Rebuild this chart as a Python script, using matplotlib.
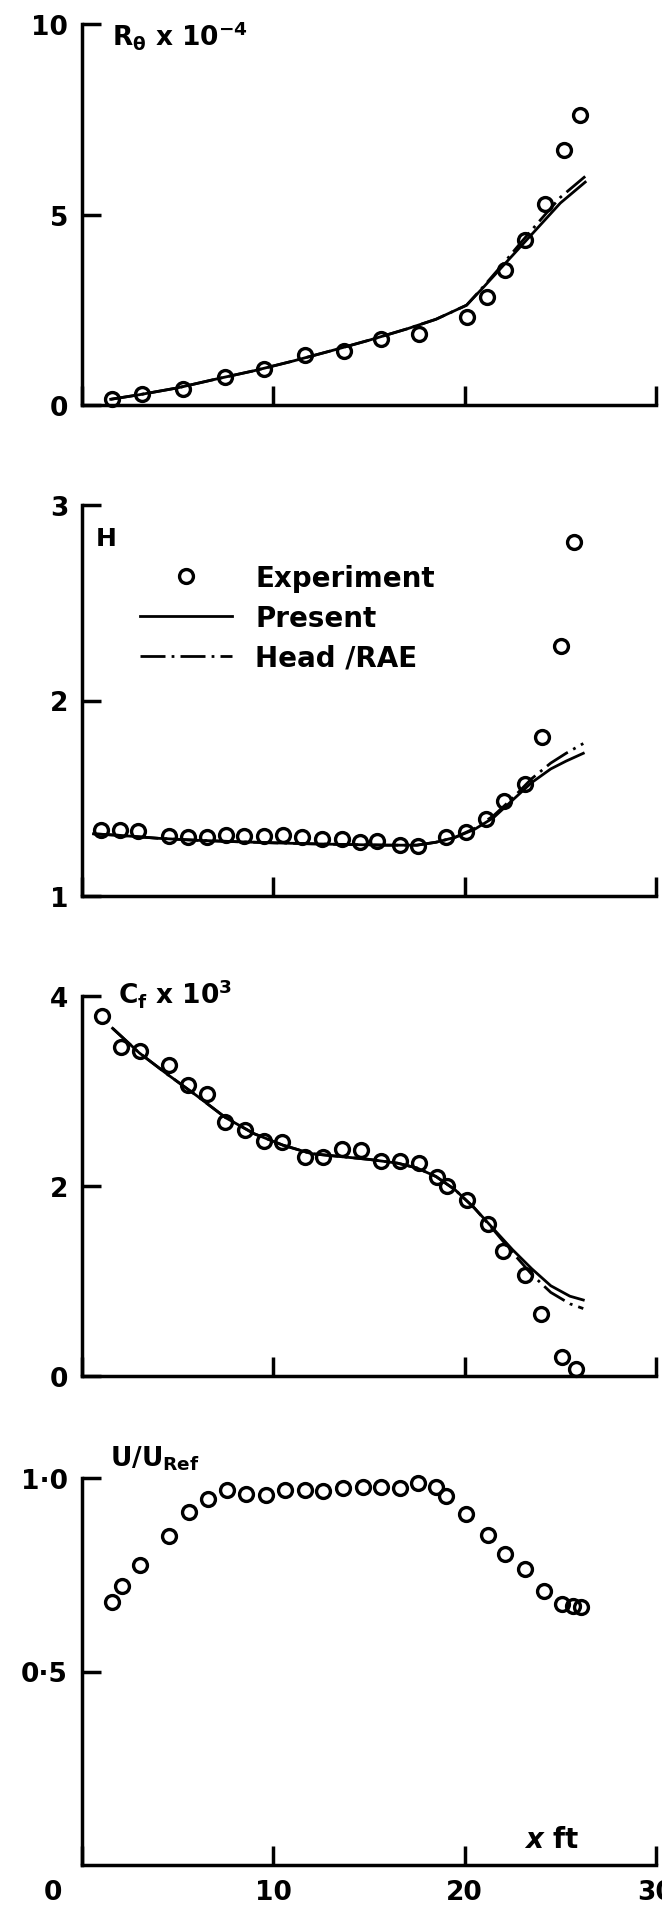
import matplotlib
matplotlib.use("Agg")
import matplotlib.pyplot as plt

plt.rcParams["font.family"] = ["DejaVu Sans"]
plt.rcParams["font.weight"] = "bold"
plt.rcParams["mathtext.fontset"] = "custom"
plt.rcParams["mathtext.rm"] = "DejaVu Sans:bold"
plt.rcParams["mathtext.it"] = "DejaVu Sans:italic:bold"
plt.rcParams["mathtext.bf"] = "DejaVu Sans:bold"
plt.rcParams["mathtext.default"] = "rm"

# ---------------- data ----------------
# Panel 1: R_theta x 10^-4
rth_exp_x = [1.59, 3.14, 5.29, 7.47, 9.51, 11.64, 13.68, 15.63, 17.6, 20.1, 21.17, 22.1, 23.17, 24.2, 25.17, 26.05]
rth_exp_y = [0.16, 0.29, 0.42, 0.73, 0.94, 1.31, 1.43, 1.73, 1.86, 2.30, 2.83, 3.55, 4.34, 5.28, 6.70, 7.61]
rth_pres_x = [1.5, 3, 5, 7, 9, 11, 13, 15, 17, 18.5, 20.1, 21, 22, 23, 24, 25, 26.3]
rth_pres_y = [0.15, 0.27, 0.45, 0.68, 0.90, 1.15, 1.42, 1.70, 2.00, 2.25, 2.62, 3.10, 3.65, 4.20, 4.75, 5.30, 5.85]
rth_head_x = [1.5, 3, 5, 7, 9, 11, 13, 15, 17, 18.5, 20.1, 21, 22, 23, 24, 25, 26.3]
rth_head_y = [0.15, 0.27, 0.45, 0.68, 0.90, 1.15, 1.42, 1.70, 2.00, 2.25, 2.62, 3.12, 3.70, 4.30, 4.88, 5.45, 6.00]

# Panel 2: H
h_exp_x = [0.99, 1.97, 2.92, 4.54, 5.52, 6.54, 7.51, 8.47, 9.51, 10.53, 11.5, 12.52, 13.57, 14.52, 15.41,
           16.6, 17.56, 19.0, 20.06, 21.11, 22.06, 23.15, 24.06, 25.06, 25.72]
h_exp_y = [1.339, 1.34, 1.334, 1.309, 1.30, 1.30, 1.312, 1.309, 1.305, 1.312, 1.30, 1.29, 1.29, 1.275, 1.279,
           1.262, 1.257, 1.303, 1.329, 1.394, 1.488, 1.573, 1.812, 2.28, 2.81]
h_pres_x = [0.6, 2, 4, 6, 8, 10, 12, 14, 16, 17.5, 18.5, 19.5, 20.5, 21.5, 22.5, 23.5, 24.5, 25.3, 26.2]
h_pres_y = [1.318, 1.31, 1.295, 1.285, 1.278, 1.272, 1.267, 1.263, 1.26, 1.26, 1.275, 1.30, 1.34, 1.40, 1.49,
            1.58, 1.65, 1.69, 1.73]
h_head_x = [0.6, 2, 4, 6, 8, 10, 12, 14, 16, 17.5, 18.5, 19.5, 20.5, 21.5, 22.5, 23.5, 24.5, 25.3, 26.2]
h_head_y = [1.318, 1.31, 1.295, 1.285, 1.278, 1.272, 1.267, 1.263, 1.26, 1.26, 1.275, 1.30, 1.345, 1.41, 1.50,
            1.60, 1.68, 1.73, 1.78]

# Panel 3: Cf x 10^3
cf_exp_x = [1.04, 2.03, 3.03, 4.54, 5.52, 6.54, 7.47, 8.51, 9.51, 10.46, 11.64, 12.62, 13.57, 14.57, 15.61,
            16.6, 17.6, 18.56, 19.07, 20.11, 21.22, 22.0, 23.15, 23.99, 25.1, 25.83]
cf_exp_y = [3.79, 3.46, 3.42, 3.27, 3.06, 2.97, 2.67, 2.59, 2.47, 2.46, 2.31, 2.31, 2.39, 2.38, 2.26,
            2.26, 2.24, 2.09, 2.00, 1.85, 1.60, 1.32, 1.06, 0.65, 0.20, 0.07]
cf_pres_x = [1.6, 3, 4.5, 6, 7.5, 9, 10.5, 12, 13.5, 15, 16.5, 17.5, 18.5, 19.5, 20.5, 21.5, 22.5, 23.5, 24.5, 25.5, 26.2]
cf_pres_y = [3.66, 3.40, 3.17, 2.95, 2.72, 2.55, 2.43, 2.34, 2.31, 2.28, 2.24, 2.19, 2.10, 1.96, 1.77, 1.55,
             1.33, 1.13, 0.95, 0.84, 0.80]
cf_head_x = [1.6, 3, 4.5, 6, 7.5, 9, 10.5, 12, 13.5, 15, 16.5, 17.5, 18.5, 19.5, 20.5, 21.5, 22.5, 23.5, 24.5, 25.5, 26.2]
cf_head_y = [3.66, 3.40, 3.17, 2.95, 2.72, 2.55, 2.43, 2.34, 2.31, 2.28, 2.24, 2.19, 2.10, 1.96, 1.77, 1.54,
             1.30, 1.07, 0.88, 0.76, 0.71]

# Panel 4: U/U_ref
u_exp_x = [1.59, 2.10, 3.03, 4.54, 5.58, 6.58, 7.58, 8.58, 9.64, 10.62, 11.64, 12.62, 13.63, 14.68, 15.63,
           16.6, 17.56, 18.49, 19.04, 20.06, 21.22, 22.1, 23.15, 24.17, 25.1, 25.65, 26.1]
u_exp_y = [0.679, 0.722, 0.775, 0.851, 0.913, 0.946, 0.970, 0.959, 0.956, 0.970, 0.970, 0.967, 0.973, 0.976, 0.976,
           0.973, 0.987, 0.976, 0.953, 0.907, 0.853, 0.804, 0.765, 0.709, 0.674, 0.670, 0.666]

# tick labels
x_ticks = [0, 10, 20, 30]
x_ticklabels = ["", "10", "20", "30"]
p1_yticks, p1_ylabels = [0, 5, 10], ["0", "5", "10"]
p2_yticks, p2_ylabels = [1, 2, 3], ["1", "2", "3"]
p3_yticks, p3_ylabels = [0, 2, 4], ["0", "2", "4"]
p4_yticks, p4_ylabels = [0.5, 1.0], ["0·5", "1·0"]

# ---------------- figure ----------------
W, H = 662, 1908
fig = plt.figure(figsize=(W / 100, H / 100), dpi=100)

LEFT, RIGHT = 82, 656


def make_axes(top, bottom):
    return fig.add_axes([LEFT / W, 1 - bottom / H, (RIGHT - LEFT) / W, (bottom - top) / H])


SPINE_LW = 2.5
LINE_LW = 2.0
MS = 10
MEW = 2.4
DASHDOT = (0, (9, 2.2, 1.0, 2.2))


def style(ax, ylim, yticks, ylabels, xlabels=False):
    ax.set_xlim(0, 30)
    ax.set_ylim(*ylim)
    for s in ("top", "right"):
        ax.spines[s].set_visible(False)
    for s in ("left", "bottom"):
        ax.spines[s].set_linewidth(SPINE_LW)
    ax.set_xticks(x_ticks)
    ax.set_yticks(yticks)
    ax.set_yticklabels(ylabels, fontweight="bold")
    if xlabels:
        ax.set_xticklabels(x_ticklabels, fontweight="bold")
    else:
        ax.set_xticklabels([])
    ax.tick_params(axis="both", direction="in", length=14, width=SPINE_LW, labelsize=19, pad=10)


def exp(ax, x, y, label=None):
    ax.plot(x, y, "o", mfc="none", mec="black", ms=MS, mew=MEW, clip_on=False, zorder=3, label=label)


# Panel 1
ax1 = make_axes(25, 406)
style(ax1, (0, 10), p1_yticks, p1_ylabels)
ax1.plot(rth_head_x, rth_head_y, color="black", lw=LINE_LW, ls=DASHDOT)
ax1.plot(rth_pres_x, rth_pres_y, color="black", lw=LINE_LW)
exp(ax1, rth_exp_x, rth_exp_y)

# Panel 2
ax2 = make_axes(506, 897)
style(ax2, (1, 3), p2_yticks, p2_ylabels)
exp(ax2, h_exp_x, h_exp_y, label="Experiment")
ax2.plot(h_pres_x, h_pres_y, color="black", lw=LINE_LW, label="Present")
ax2.plot(h_head_x, h_head_y, color="black", lw=LINE_LW, ls=DASHDOT, label="Head /RAE")
ax2.legend(loc="upper left", bbox_to_anchor=((140 - LEFT) / (RIGHT - LEFT), (897 - 565) / (897 - 506)),
           frameon=False, prop={"size": 20, "weight": "bold"}, handlelength=3.3, handletextpad=0.85,
           labelspacing=0.42, borderpad=0, borderaxespad=0, numpoints=1)

# Panel 3
ax3 = make_axes(997, 1377)
style(ax3, (0, 4), p3_yticks, p3_ylabels)
ax3.plot(cf_head_x, cf_head_y, color="black", lw=LINE_LW, ls=DASHDOT)
ax3.plot(cf_pres_x, cf_pres_y, color="black", lw=LINE_LW)
exp(ax3, cf_exp_x, cf_exp_y)

# Panel 4
ax4 = make_axes(1479, 1866)
style(ax4, (0, 1.0), p4_yticks, p4_ylabels, xlabels=True)
exp(ax4, u_exp_x, u_exp_y)

# ---------------- text labels ----------------
def ftext(px, py, s, **kw):
    fig.text(px / W, 1 - py / H, s, fontweight="bold", **kw)


ftext(112, 45, r"R$_{\theta}$ x 10$^{-4}$", fontsize=19, ha="left", va="baseline")
ftext(106, 539, "H", fontsize=18, ha="center", va="center")
ftext(118, 1004, r"C$_{f}$ x 10$^{3}$", fontsize=19, ha="left", va="baseline")
ftext(110, 1467, r"U/U$_{Ref}$", fontsize=19, ha="left", va="baseline")
ftext(552, 1848, r"$\it{x}$ ft", fontsize=20, ha="center", va="baseline")
ftext(53, 1893, "0", fontsize=19, ha="center", va="center")

fig.savefig("out.png", dpi=100, facecolor="white")
